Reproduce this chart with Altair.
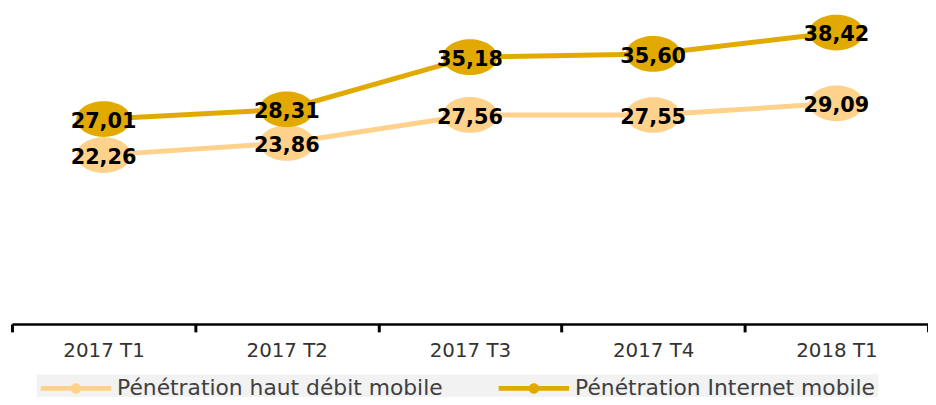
import altair as alt
import pandas as pd

periods = ["2017 T1", "2017 T2", "2017 T3", "2017 T4", "2018 T1"]
haut_debit = [22.26, 23.86, 27.56, 27.55, 29.09]
internet = [27.01, 28.31, 35.18, 35.60, 38.42]
series = ["Pénétration haut débit mobile", "Pénétration Internet mobile"]
colors = ["#FFD28C", "#E2AA00"]

rows = []
for name, vals in zip(series, [haut_debit, internet]):
    for p, v in zip(periods, vals):
        rows.append({"period": p, "value": v, "series": name,
                     "label": f"{v:.2f}".replace(".", ",")})
df = pd.DataFrame(rows)

ellipse = ("M-1,0C-1,-0.362 -0.552,-0.655 0,-0.655C0.552,-0.655 1,-0.362 1,0"
           "C1,0.362 0.552,0.655 0,0.655C-0.552,0.655 -1,0.362 -1,0Z")
# legend symbol: thick line with a dot, drawn in units of 10px (size 400)
legend_sym = ("M-1,-0.25L6.1,-0.25L6.1,0.25L-1,0.25Z"
              "M2.02,0C2.02,-0.293 2.257,-0.53 2.55,-0.53C2.843,-0.53 3.08,-0.293 3.08,0"
              "C3.08,0.293 2.843,0.53 2.55,0.53C2.257,0.53 2.02,0.293 2.02,0Z")

x = alt.X("period:N", title=None,
          scale=alt.Scale(type="band", domain=periods, paddingInner=0, paddingOuter=0),
          axis=alt.Axis(domain=True, domainColor="black", domainWidth=2.5,
                        tickBand="extent", tickSize=8, tickWidth=3,
                        tickColor="black", labelAngle=0,
                        labelFont="DejaVu Sans", labelFontSize=20, labelColor="#333333",
                        labelPadding=9))
y = alt.Y("value:Q", scale=alt.Scale(domain=[0, 40], nice=False, zero=True), axis=None)
color = alt.Color("series:N",
                  scale=alt.Scale(domain=series, range=colors),
                  legend=alt.Legend(title=None, orient="none", direction="horizontal",
                                    legendX=25, legendY=357, fillColor="#F2F2F2",
                                    padding=3, symbolType=legend_sym, symbolSize=400,
                                    symbolStrokeWidth=0, symbolOpacity=1,
                                    labelFont="DejaVu Sans", labelFontSize=22,
                                    labelColor="#404040", labelOffset=56,
                                    columnPadding=55, labelLimit=600))

base = alt.Chart(df)

lines = base.mark_line(strokeWidth=5).encode(x=x, y=y, color=color)
points = base.mark_point(shape=ellipse, size=3025, filled=True, opacity=1,
                         strokeWidth=0).encode(x=x, y=y, color=color)
texts = base.mark_text(font="DejaVu Sans", fontWeight="bold", fontSize=21,
                       color="black", dy=3).encode(x=x, y=y, text="label:N")

chart = alt.layer(lines, points, texts).properties(
    width=924, height=306,
    autosize=alt.AutoSizeParams(type="none"),
    padding={"left": 4, "top": 11, "right": 0, "bottom": 72},
).configure_view(stroke=None)

chart.save("out.html", embed_options={"renderer": "svg", "actions": False})
